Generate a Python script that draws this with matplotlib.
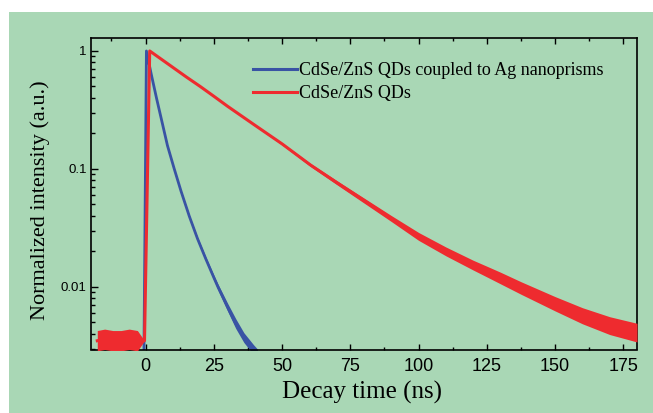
import matplotlib
matplotlib.use('Agg')
import matplotlib.pyplot as plt
from matplotlib.patches import Rectangle
from matplotlib.lines import Line2D
from matplotlib.ticker import MultipleLocator, FixedLocator, NullFormatter

# values
# CdSe/ZnS QDs (red): baseline, rise and decay
red_t = [-17.7, -15, -12, -9, -6, -3, -0.4, 1.5, 5, 10, 15, 20, 25, 30, 40, 50,
         60.4, 70, 80, 90, 100, 110, 120, 125, 130, 137.5, 150, 160, 170, 180]
red_mid = [0.0035, 0.0036, 0.0035, 0.0035, 0.0036, 0.0035, 0.0035, 1.0, 0.876, 0.725,
           0.60, 0.50, 0.413, 0.34, 0.235, 0.163, 0.108, 0.0767, 0.054, 0.038,
           0.0268, 0.0200, 0.0153, 0.0135, 0.0119, 0.0098, 0.0072, 0.0057,
           0.0047, 0.0041]
# multiplicative half-width of the noisy band
red_spread = [1.22, 1.22, 1.22, 1.22, 1.22, 1.22, 1.0, 1.0, 1.01, 1.01, 1.01, 1.01,
              1.01, 1.01, 1.01, 1.02, 1.03, 1.04, 1.05, 1.06, 1.08, 1.09, 1.10, 1.11,
              1.12, 1.13, 1.15, 1.17, 1.19, 1.20]

# CdSe/ZnS QDs coupled to Ag nanoprisms (blue)
blue_t = [-0.6, 0.3, 2, 4, 6, 8, 10.5, 13, 16, 19, 22, 25, 26.5, 30, 33, 36, 39.5, 41]
blue_mid = [0.0029, 1.0, 0.646, 0.398, 0.251, 0.158, 0.10, 0.0646, 0.0398, 0.0257,
            0.0174, 0.0120, 0.0100, 0.00676, 0.0049, 0.00372, 0.00295, 0.0027]
blue_spread = [1.0, 1.0, 1.0, 1.0, 1.0, 1.01, 1.01, 1.01, 1.02, 1.03, 1.04, 1.05,
               1.06, 1.08, 1.10, 1.10, 1.10, 1.10]

x_ticks = [0, 25, 50, 75, 100, 125, 150, 175]
y_ticks = [0.01, 0.1, 1]
y_labels = ['0.01', '0.1', '1']
names = ['CdSe/ZnS QDs coupled to Ag nanoprisms', 'CdSe/ZnS QDs']

green = '#a9d7b5'
blue = '#3953a4'
red = '#ee2b2f'

fig = plt.figure(figsize=(6.53, 4.13), dpi=100)
fig.patch.set_facecolor('white')
fig.patches.append(Rectangle((9 / 653, 0), 1, 1 - 12 / 413, transform=fig.transFigure,
                             facecolor=green, edgecolor='none', zorder=-10))

ax = fig.add_axes([91 / 653, 1 - 349.5 / 413, 546 / 653, 311.2 / 413])
ax.set_zorder(1)
ax.set_facecolor('none')

ax.plot(blue_t, blue_mid, color=blue, lw=2.0, zorder=2)
ax.fill_between(blue_t, [m / s for m, s in zip(blue_mid, blue_spread)],
                [m * s for m, s in zip(blue_mid, blue_spread)],
                color=blue, lw=0, zorder=2)
ax.plot(red_t, red_mid, color=red, lw=2.2, zorder=3)
ax.fill_between(red_t, [m / s for m, s in zip(red_mid, red_spread)],
                [m * s for m, s in zip(red_mid, red_spread)],
                color=red, lw=0, zorder=3)

ax.set_yscale('log')
ax.set_xlim(-20, 180)
ax.set_ylim(0.00295, 1.28)

ax.set_xticks(x_ticks)
ax.set_xticklabels([str(v) for v in x_ticks], family='Liberation Sans', fontsize=13)
ax.xaxis.set_minor_locator(MultipleLocator(12.5))
ax.yaxis.set_major_locator(FixedLocator(y_ticks))
ax.set_yticklabels(y_labels, family='Liberation Sans', fontsize=9.5)
ax.yaxis.set_minor_locator(FixedLocator([k * 10.0 ** e for e in (-3, -2, -1) for k in range(2, 10)]))
ax.yaxis.set_minor_formatter(NullFormatter())

ax.tick_params(axis='x', which='both', direction='in', top=True, bottom=True,
               width=1.0, pad=6)
ax.tick_params(axis='x', which='major', length=4.5)
ax.tick_params(axis='x', which='minor', length=2.5)
ax.tick_params(axis='y', which='both', direction='in', left=True, right=False,
               width=1.0, pad=3)
ax.tick_params(axis='y', which='major', length=5)
ax.tick_params(axis='y', which='minor', length=3)
for sp in ax.spines.values():
    sp.set_linewidth(1.2)

ax.set_xlabel('Decay time (ns)', family='Liberation Serif', fontsize=18)
ax.xaxis.set_label_coords(0.496, -0.10)
ax.set_ylabel('Normalized intensity (a.u.)', family='Liberation Serif', fontsize=16)
ax.yaxis.set_label_coords(-0.075, 0.48)

handles = [Line2D([], [], color=blue, lw=2.2), Line2D([], [], color=red, lw=2.2)]
ax.legend(handles, names, loc='upper left', bbox_to_anchor=((252 - 91) / 546 - 0.012, 0.946),
          frameon=False, prop={'family': 'Liberation Serif', 'size': 13},
          handlelength=2.45, handletextpad=0.1, labelspacing=0.32, borderaxespad=0)

fig.savefig('out.png', dpi=100)
